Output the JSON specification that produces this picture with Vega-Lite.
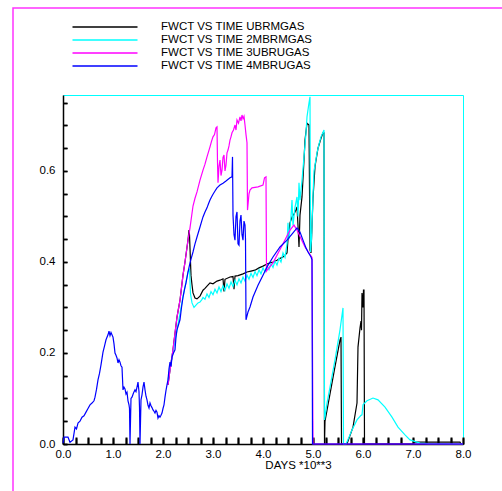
{
"$schema": "https://vega.github.io/schema/vega-lite/v6.json",
"width": 400, "height": 349,
"autosize": {"type": "none"},
"padding": {"left": 63, "top": 95, "right": 39, "bottom": 47},
"background": "white",
"config": {
 "view": {"stroke": "#00ffff", "strokeWidth": 1},
 "font": "Liberation Sans",
 "axis": {"domainColor": "black", "domainWidth": 1.5, "labelColor": "black", "titleColor": "black", "labelFont": "Liberation Sans", "labelFontSize": 11.5, "titleFont": "Liberation Sans", "titleFontSize": 11.5, "titleFontWeight": "normal", "labelOverlap": false, "labelFlush": false},
 "legend": {"orient": "none", "legendX": -50, "legendY": -87, "padding": 13, "strokeColor": "#ff33ff", "strokeWidth": 1.5, "symbolType": "M-6.5,0H6.5", "symbolSize": 100, "symbolStrokeWidth": 1.5, "symbolOffset": 73, "labelFont": "Liberation Sans", "labelFontSize": 11.5, "labelColor": "black", "labelOffset": 50, "rowPadding": 1, "labelLimit": 0, "titleOrient": "right", "titlePadding": 280, "titleFontSize": 520, "titleLimit": 3000, "titleAnchor": "start", "titleBaseline": "top"}
},
"datasets": {
 "black": [
  {"s":"UBRMGAS","t":2.1,"v":0.13},{"s":"UBRMGAS","t":2.14,"v":0.163},{"s":"UBRMGAS","t":2.2,"v":0.207},{"s":"UBRMGAS","t":2.28,"v":0.279},{"s":"UBRMGAS","t":2.34,"v":0.316},{"s":"UBRMGAS","t":2.4,"v":0.371},{"s":"UBRMGAS","t":2.44,"v":0.4},{"s":"UBRMGAS","t":2.5,"v":0.448},{"s":"UBRMGAS","t":2.52,"v":0.47},{"s":"UBRMGAS","t":2.53,"v":0.46},{"s":"UBRMGAS","t":2.56,"v":0.37},{"s":"UBRMGAS","t":2.58,"v":0.35},{"s":"UBRMGAS","t":2.6,"v":0.332},{"s":"UBRMGAS","t":2.64,"v":0.321},{"s":"UBRMGAS","t":2.68,"v":0.319},{"s":"UBRMGAS","t":2.74,"v":0.325},{"s":"UBRMGAS","t":2.8,"v":0.338},{"s":"UBRMGAS","t":2.84,"v":0.342},{"s":"UBRMGAS","t":2.88,"v":0.347},{"s":"UBRMGAS","t":2.94,"v":0.354},{"s":"UBRMGAS","t":3.0,"v":0.352},{"s":"UBRMGAS","t":3.08,"v":0.358},{"s":"UBRMGAS","t":3.14,"v":0.36},{"s":"UBRMGAS","t":3.2,"v":0.363},{"s":"UBRMGAS","t":3.22,"v":0.335},{"s":"UBRMGAS","t":3.24,"v":0.362},{"s":"UBRMGAS","t":3.34,"v":0.367},{"s":"UBRMGAS","t":3.4,"v":0.368},{"s":"UBRMGAS","t":3.42,"v":0.34},{"s":"UBRMGAS","t":3.44,"v":0.369},{"s":"UBRMGAS","t":3.5,"v":0.37},{"s":"UBRMGAS","t":3.6,"v":0.374},{"s":"UBRMGAS","t":3.68,"v":0.378},{"s":"UBRMGAS","t":3.76,"v":0.38},{"s":"UBRMGAS","t":3.84,"v":0.382},{"s":"UBRMGAS","t":3.92,"v":0.387},{"s":"UBRMGAS","t":4.0,"v":0.391},{"s":"UBRMGAS","t":4.07,"v":0.395},{"s":"UBRMGAS","t":4.14,"v":0.398},{"s":"UBRMGAS","t":4.2,"v":0.4},{"s":"UBRMGAS","t":4.28,"v":0.404},{"s":"UBRMGAS","t":4.34,"v":0.408},{"s":"UBRMGAS","t":4.4,"v":0.411},{"s":"UBRMGAS","t":4.44,"v":0.415},{"s":"UBRMGAS","t":4.48,"v":0.42},{"s":"UBRMGAS","t":4.5,"v":0.45},{"s":"UBRMGAS","t":4.54,"v":0.486},{"s":"UBRMGAS","t":4.58,"v":0.499},{"s":"UBRMGAS","t":4.62,"v":0.505},{"s":"UBRMGAS","t":4.66,"v":0.515},{"s":"UBRMGAS","t":4.68,"v":0.521},{"s":"UBRMGAS","t":4.7,"v":0.48},{"s":"UBRMGAS","t":4.72,"v":0.433},{"s":"UBRMGAS","t":4.74,"v":0.503},{"s":"UBRMGAS","t":4.78,"v":0.543},{"s":"UBRMGAS","t":4.82,"v":0.624},{"s":"UBRMGAS","t":4.84,"v":0.668},{"s":"UBRMGAS","t":4.88,"v":0.705},{"s":"UBRMGAS","t":4.92,"v":0.701},{"s":"UBRMGAS","t":4.94,"v":0.426},{"s":"UBRMGAS","t":4.96,"v":0.42},{"s":"UBRMGAS","t":5.0,"v":0.54},{"s":"UBRMGAS","t":5.04,"v":0.61},{"s":"UBRMGAS","t":5.1,"v":0.65},{"s":"UBRMGAS","t":5.16,"v":0.672},{"s":"UBRMGAS","t":5.2,"v":0.684},{"s":"UBRMGAS","t":5.22,"v":0.684},{"s":"UBRMGAS","t":5.23,"v":0.0},{"s":"UBRMGAS","t":5.24,"v":0.05},{"s":"UBRMGAS","t":5.34,"v":0.11},{"s":"UBRMGAS","t":5.44,"v":0.17},{"s":"UBRMGAS","t":5.54,"v":0.228},{"s":"UBRMGAS","t":5.56,"v":0.235},{"s":"UBRMGAS","t":5.57,"v":0.0},{"s":"UBRMGAS","t":5.68,"v":0.0},{"s":"UBRMGAS","t":5.8,"v":0.037},{"s":"UBRMGAS","t":5.88,"v":0.09},{"s":"UBRMGAS","t":5.9,"v":0.213},{"s":"UBRMGAS","t":5.94,"v":0.255},{"s":"UBRMGAS","t":5.96,"v":0.27},{"s":"UBRMGAS","t":5.97,"v":0.25},{"s":"UBRMGAS","t":5.98,"v":0.332},{"s":"UBRMGAS","t":6.0,"v":0.3},{"s":"UBRMGAS","t":6.01,"v":0.338},{"s":"UBRMGAS","t":6.02,"v":0.338},{"s":"UBRMGAS","t":6.03,"v":0.0},{"s":"UBRMGAS","t":7.0,"v":0.0},{"s":"UBRMGAS","t":7.02,"v":0.004},{"s":"UBRMGAS","t":7.94,"v":0.004},{"s":"UBRMGAS","t":7.96,"v":0.0},{"s":"UBRMGAS","t":8.0,"v":0.0}
 ],
 "cyan": [
  {"s":"2MBRMGAS","t":2.1,"v":0.141},{"s":"2MBRMGAS","t":2.18,"v":0.191},{"s":"2MBRMGAS","t":2.28,"v":0.251},{"s":"2MBRMGAS","t":2.4,"v":0.323},{"s":"2MBRMGAS","t":2.5,"v":0.378},{"s":"2MBRMGAS","t":2.53,"v":0.385},{"s":"2MBRMGAS","t":2.55,"v":0.33},{"s":"2MBRMGAS","t":2.58,"v":0.31},{"s":"2MBRMGAS","t":2.62,"v":0.3},{"s":"2MBRMGAS","t":2.66,"v":0.305},{"s":"2MBRMGAS","t":2.7,"v":0.31},{"s":"2MBRMGAS","t":2.74,"v":0.312},{"s":"2MBRMGAS","t":2.78,"v":0.318},{"s":"2MBRMGAS","t":2.8,"v":0.322},{"s":"2MBRMGAS","t":2.84,"v":0.318},{"s":"2MBRMGAS","t":2.88,"v":0.33},{"s":"2MBRMGAS","t":2.92,"v":0.322},{"s":"2MBRMGAS","t":2.96,"v":0.335},{"s":"2MBRMGAS","t":3.0,"v":0.328},{"s":"2MBRMGAS","t":3.04,"v":0.34},{"s":"2MBRMGAS","t":3.08,"v":0.332},{"s":"2MBRMGAS","t":3.12,"v":0.345},{"s":"2MBRMGAS","t":3.16,"v":0.335},{"s":"2MBRMGAS","t":3.2,"v":0.348},{"s":"2MBRMGAS","t":3.24,"v":0.338},{"s":"2MBRMGAS","t":3.28,"v":0.352},{"s":"2MBRMGAS","t":3.32,"v":0.342},{"s":"2MBRMGAS","t":3.36,"v":0.356},{"s":"2MBRMGAS","t":3.4,"v":0.346},{"s":"2MBRMGAS","t":3.44,"v":0.36},{"s":"2MBRMGAS","t":3.48,"v":0.35},{"s":"2MBRMGAS","t":3.52,"v":0.363},{"s":"2MBRMGAS","t":3.56,"v":0.354},{"s":"2MBRMGAS","t":3.6,"v":0.367},{"s":"2MBRMGAS","t":3.64,"v":0.358},{"s":"2MBRMGAS","t":3.68,"v":0.371},{"s":"2MBRMGAS","t":3.72,"v":0.362},{"s":"2MBRMGAS","t":3.76,"v":0.375},{"s":"2MBRMGAS","t":3.8,"v":0.366},{"s":"2MBRMGAS","t":3.84,"v":0.379},{"s":"2MBRMGAS","t":3.88,"v":0.37},{"s":"2MBRMGAS","t":3.92,"v":0.383},{"s":"2MBRMGAS","t":3.96,"v":0.374},{"s":"2MBRMGAS","t":4.0,"v":0.387},{"s":"2MBRMGAS","t":4.04,"v":0.378},{"s":"2MBRMGAS","t":4.08,"v":0.392},{"s":"2MBRMGAS","t":4.12,"v":0.383},{"s":"2MBRMGAS","t":4.16,"v":0.396},{"s":"2MBRMGAS","t":4.2,"v":0.388},{"s":"2MBRMGAS","t":4.24,"v":0.402},{"s":"2MBRMGAS","t":4.28,"v":0.393},{"s":"2MBRMGAS","t":4.32,"v":0.408},{"s":"2MBRMGAS","t":4.36,"v":0.4},{"s":"2MBRMGAS","t":4.4,"v":0.42},{"s":"2MBRMGAS","t":4.44,"v":0.41},{"s":"2MBRMGAS","t":4.48,"v":0.44},{"s":"2MBRMGAS","t":4.5,"v":0.486},{"s":"2MBRMGAS","t":4.52,"v":0.45},{"s":"2MBRMGAS","t":4.56,"v":0.5},{"s":"2MBRMGAS","t":4.58,"v":0.536},{"s":"2MBRMGAS","t":4.6,"v":0.48},{"s":"2MBRMGAS","t":4.64,"v":0.52},{"s":"2MBRMGAS","t":4.68,"v":0.543},{"s":"2MBRMGAS","t":4.7,"v":0.5},{"s":"2MBRMGAS","t":4.72,"v":0.574},{"s":"2MBRMGAS","t":4.74,"v":0.536},{"s":"2MBRMGAS","t":4.78,"v":0.58},{"s":"2MBRMGAS","t":4.82,"v":0.631},{"s":"2MBRMGAS","t":4.86,"v":0.684},{"s":"2MBRMGAS","t":4.88,"v":0.719},{"s":"2MBRMGAS","t":4.92,"v":0.75},{"s":"2MBRMGAS","t":4.94,"v":0.763},{"s":"2MBRMGAS","t":4.95,"v":0.422},{"s":"2MBRMGAS","t":4.97,"v":0.45},{"s":"2MBRMGAS","t":5.0,"v":0.546},{"s":"2MBRMGAS","t":5.02,"v":0.6},{"s":"2MBRMGAS","t":5.04,"v":0.613},{"s":"2MBRMGAS","t":5.08,"v":0.64},{"s":"2MBRMGAS","t":5.12,"v":0.659},{"s":"2MBRMGAS","t":5.16,"v":0.675},{"s":"2MBRMGAS","t":5.22,"v":0.69},{"s":"2MBRMGAS","t":5.23,"v":0.053},{"s":"2MBRMGAS","t":5.28,"v":0.09},{"s":"2MBRMGAS","t":5.34,"v":0.125},{"s":"2MBRMGAS","t":5.44,"v":0.185},{"s":"2MBRMGAS","t":5.54,"v":0.251},{"s":"2MBRMGAS","t":5.6,"v":0.299},{"s":"2MBRMGAS","t":5.61,"v":0.0},{"s":"2MBRMGAS","t":5.66,"v":0.0},{"s":"2MBRMGAS","t":5.72,"v":0.015},{"s":"2MBRMGAS","t":5.78,"v":0.031},{"s":"2MBRMGAS","t":5.88,"v":0.053},{"s":"2MBRMGAS","t":5.96,"v":0.063},{"s":"2MBRMGAS","t":5.98,"v":0.064},{"s":"2MBRMGAS","t":6.0,"v":0.086},{"s":"2MBRMGAS","t":6.08,"v":0.095},{"s":"2MBRMGAS","t":6.2,"v":0.101},{"s":"2MBRMGAS","t":6.3,"v":0.097},{"s":"2MBRMGAS","t":6.44,"v":0.081},{"s":"2MBRMGAS","t":6.58,"v":0.059},{"s":"2MBRMGAS","t":6.7,"v":0.037},{"s":"2MBRMGAS","t":6.84,"v":0.02},{"s":"2MBRMGAS","t":6.94,"v":0.009},{"s":"2MBRMGAS","t":7.14,"v":0.002},{"s":"2MBRMGAS","t":7.3,"v":0.001},{"s":"2MBRMGAS","t":8.0,"v":0.0}
 ],
 "magenta": [
  {"s":"3UBRUGAS","t":2.1,"v":0.13},{"s":"3UBRUGAS","t":2.14,"v":0.163},{"s":"3UBRUGAS","t":2.17,"v":0.185},{"s":"3UBRUGAS","t":2.2,"v":0.207},{"s":"3UBRUGAS","t":2.24,"v":0.244},{"s":"3UBRUGAS","t":2.28,"v":0.279},{"s":"3UBRUGAS","t":2.34,"v":0.316},{"s":"3UBRUGAS","t":2.4,"v":0.371},{"s":"3UBRUGAS","t":2.44,"v":0.4},{"s":"3UBRUGAS","t":2.5,"v":0.448},{"s":"3UBRUGAS","t":2.54,"v":0.475},{"s":"3UBRUGAS","t":2.6,"v":0.523},{"s":"3UBRUGAS","t":2.64,"v":0.54},{"s":"3UBRUGAS","t":2.68,"v":0.554},{"s":"3UBRUGAS","t":2.74,"v":0.58},{"s":"3UBRUGAS","t":2.8,"v":0.602},{"s":"3UBRUGAS","t":2.84,"v":0.615},{"s":"3UBRUGAS","t":2.88,"v":0.631},{"s":"3UBRUGAS","t":2.94,"v":0.653},{"s":"3UBRUGAS","t":2.97,"v":0.665},{"s":"3UBRUGAS","t":3.0,"v":0.675},{"s":"3UBRUGAS","t":3.03,"v":0.68},{"s":"3UBRUGAS","t":3.06,"v":0.695},{"s":"3UBRUGAS","t":3.08,"v":0.697},{"s":"3UBRUGAS","t":3.09,"v":0.62},{"s":"3UBRUGAS","t":3.1,"v":0.574},{"s":"3UBRUGAS","t":3.12,"v":0.61},{"s":"3UBRUGAS","t":3.14,"v":0.624},{"s":"3UBRUGAS","t":3.16,"v":0.59},{"s":"3UBRUGAS","t":3.18,"v":0.602},{"s":"3UBRUGAS","t":3.2,"v":0.63},{"s":"3UBRUGAS","t":3.22,"v":0.635},{"s":"3UBRUGAS","t":3.24,"v":0.6},{"s":"3UBRUGAS","t":3.26,"v":0.613},{"s":"3UBRUGAS","t":3.28,"v":0.64},{"s":"3UBRUGAS","t":3.3,"v":0.646},{"s":"3UBRUGAS","t":3.32,"v":0.655},{"s":"3UBRUGAS","t":3.34,"v":0.668},{"s":"3UBRUGAS","t":3.36,"v":0.675},{"s":"3UBRUGAS","t":3.38,"v":0.684},{"s":"3UBRUGAS","t":3.41,"v":0.69},{"s":"3UBRUGAS","t":3.44,"v":0.701},{"s":"3UBRUGAS","t":3.46,"v":0.69},{"s":"3UBRUGAS","t":3.48,"v":0.712},{"s":"3UBRUGAS","t":3.51,"v":0.705},{"s":"3UBRUGAS","t":3.54,"v":0.719},{"s":"3UBRUGAS","t":3.56,"v":0.71},{"s":"3UBRUGAS","t":3.58,"v":0.723},{"s":"3UBRUGAS","t":3.6,"v":0.715},{"s":"3UBRUGAS","t":3.62,"v":0.72},{"s":"3UBRUGAS","t":3.64,"v":0.701},{"s":"3UBRUGAS","t":3.66,"v":0.68},{"s":"3UBRUGAS","t":3.68,"v":0.662},{"s":"3UBRUGAS","t":3.69,"v":0.514},{"s":"3UBRUGAS","t":3.72,"v":0.55},{"s":"3UBRUGAS","t":3.74,"v":0.558},{"s":"3UBRUGAS","t":3.78,"v":0.563},{"s":"3UBRUGAS","t":3.9,"v":0.565},{"s":"3UBRUGAS","t":4.0,"v":0.569},{"s":"3UBRUGAS","t":4.03,"v":0.585},{"s":"3UBRUGAS","t":4.06,"v":0.587},{"s":"3UBRUGAS","t":4.07,"v":0.38},{"s":"3UBRUGAS","t":4.1,"v":0.385},{"s":"3UBRUGAS","t":4.2,"v":0.398},{"s":"3UBRUGAS","t":4.4,"v":0.44},{"s":"3UBRUGAS","t":4.54,"v":0.47},{"s":"3UBRUGAS","t":4.62,"v":0.481},{"s":"3UBRUGAS","t":4.68,"v":0.47},{"s":"3UBRUGAS","t":4.84,"v":0.433},{"s":"3UBRUGAS","t":4.98,"v":0.41},{"s":"3UBRUGAS","t":5.0,"v":0.0},{"s":"3UBRUGAS","t":8.0,"v":0.0}
 ],
 "blue": [
  {"s":"4MBRUGAS","t":0,"v":0.002},{"s":"4MBRUGAS","t":0.02,"v":0.015},{"s":"4MBRUGAS","t":0.1,"v":0.015},{"s":"4MBRUGAS","t":0.14,"v":0.004},{"s":"4MBRUGAS","t":0.2,"v":0.009},{"s":"4MBRUGAS","t":0.24,"v":0.037},{"s":"4MBRUGAS","t":0.27,"v":0.033},{"s":"4MBRUGAS","t":0.3,"v":0.046},{"s":"4MBRUGAS","t":0.34,"v":0.05},{"s":"4MBRUGAS","t":0.38,"v":0.059},{"s":"4MBRUGAS","t":0.42,"v":0.062},{"s":"4MBRUGAS","t":0.46,"v":0.07},{"s":"4MBRUGAS","t":0.5,"v":0.078},{"s":"4MBRUGAS","t":0.54,"v":0.086},{"s":"4MBRUGAS","t":0.58,"v":0.09},{"s":"4MBRUGAS","t":0.62,"v":0.095},{"s":"4MBRUGAS","t":0.64,"v":0.103},{"s":"4MBRUGAS","t":0.67,"v":0.12},{"s":"4MBRUGAS","t":0.7,"v":0.141},{"s":"4MBRUGAS","t":0.73,"v":0.155},{"s":"4MBRUGAS","t":0.76,"v":0.174},{"s":"4MBRUGAS","t":0.8,"v":0.202},{"s":"4MBRUGAS","t":0.83,"v":0.215},{"s":"4MBRUGAS","t":0.86,"v":0.229},{"s":"4MBRUGAS","t":0.9,"v":0.24},{"s":"4MBRUGAS","t":0.92,"v":0.248},{"s":"4MBRUGAS","t":0.94,"v":0.238},{"s":"4MBRUGAS","t":0.96,"v":0.245},{"s":"4MBRUGAS","t":1.0,"v":0.235},{"s":"4MBRUGAS","t":1.02,"v":0.22},{"s":"4MBRUGAS","t":1.04,"v":0.2},{"s":"4MBRUGAS","t":1.06,"v":0.195},{"s":"4MBRUGAS","t":1.08,"v":0.189},{"s":"4MBRUGAS","t":1.1,"v":0.178},{"s":"4MBRUGAS","t":1.12,"v":0.185},{"s":"4MBRUGAS","t":1.14,"v":0.18},{"s":"4MBRUGAS","t":1.16,"v":0.172},{"s":"4MBRUGAS","t":1.18,"v":0.169},{"s":"4MBRUGAS","t":1.2,"v":0.119},{"s":"4MBRUGAS","t":1.22,"v":0.125},{"s":"4MBRUGAS","t":1.24,"v":0.121},{"s":"4MBRUGAS","t":1.26,"v":0.11},{"s":"4MBRUGAS","t":1.28,"v":0.114},{"s":"4MBRUGAS","t":1.3,"v":0.095},{"s":"4MBRUGAS","t":1.32,"v":0.086},{"s":"4MBRUGAS","t":1.33,"v":0.078},{"s":"4MBRUGAS","t":1.34,"v":0.0},{"s":"4MBRUGAS","t":1.36,"v":0.1},{"s":"4MBRUGAS","t":1.38,"v":0.103},{"s":"4MBRUGAS","t":1.41,"v":0.112},{"s":"4MBRUGAS","t":1.44,"v":0.119},{"s":"4MBRUGAS","t":1.46,"v":0.115},{"s":"4MBRUGAS","t":1.48,"v":0.125},{"s":"4MBRUGAS","t":1.5,"v":0.136},{"s":"4MBRUGAS","t":1.52,"v":0.115},{"s":"4MBRUGAS","t":1.53,"v":0.08},{"s":"4MBRUGAS","t":1.54,"v":0.0},{"s":"4MBRUGAS","t":1.56,"v":0.097},{"s":"4MBRUGAS","t":1.58,"v":0.108},{"s":"4MBRUGAS","t":1.6,"v":0.125},{"s":"4MBRUGAS","t":1.62,"v":0.136},{"s":"4MBRUGAS","t":1.64,"v":0.119},{"s":"4MBRUGAS","t":1.66,"v":0.105},{"s":"4MBRUGAS","t":1.68,"v":0.097},{"s":"4MBRUGAS","t":1.7,"v":0.085},{"s":"4MBRUGAS","t":1.72,"v":0.079},{"s":"4MBRUGAS","t":1.74,"v":0.09},{"s":"4MBRUGAS","t":1.76,"v":0.084},{"s":"4MBRUGAS","t":1.78,"v":0.08},{"s":"4MBRUGAS","t":1.8,"v":0.075},{"s":"4MBRUGAS","t":1.82,"v":0.072},{"s":"4MBRUGAS","t":1.84,"v":0.068},{"s":"4MBRUGAS","t":1.86,"v":0.074},{"s":"4MBRUGAS","t":1.88,"v":0.07},{"s":"4MBRUGAS","t":1.9,"v":0.057},{"s":"4MBRUGAS","t":1.92,"v":0.062},{"s":"4MBRUGAS","t":1.94,"v":0.059},{"s":"4MBRUGAS","t":1.96,"v":0.063},{"s":"4MBRUGAS","t":1.98,"v":0.068},{"s":"4MBRUGAS","t":2.0,"v":0.078},{"s":"4MBRUGAS","t":2.02,"v":0.086},{"s":"4MBRUGAS","t":2.04,"v":0.103},{"s":"4MBRUGAS","t":2.06,"v":0.118},{"s":"4MBRUGAS","t":2.08,"v":0.13},{"s":"4MBRUGAS","t":2.1,"v":0.141},{"s":"4MBRUGAS","t":2.12,"v":0.165},{"s":"4MBRUGAS","t":2.14,"v":0.18},{"s":"4MBRUGAS","t":2.16,"v":0.17},{"s":"4MBRUGAS","t":2.18,"v":0.191},{"s":"4MBRUGAS","t":2.21,"v":0.2},{"s":"4MBRUGAS","t":2.24,"v":0.207},{"s":"4MBRUGAS","t":2.26,"v":0.235},{"s":"4MBRUGAS","t":2.28,"v":0.251},{"s":"4MBRUGAS","t":2.31,"v":0.262},{"s":"4MBRUGAS","t":2.34,"v":0.273},{"s":"4MBRUGAS","t":2.37,"v":0.3},{"s":"4MBRUGAS","t":2.4,"v":0.323},{"s":"4MBRUGAS","t":2.43,"v":0.34},{"s":"4MBRUGAS","t":2.46,"v":0.354},{"s":"4MBRUGAS","t":2.5,"v":0.378},{"s":"4MBRUGAS","t":2.54,"v":0.398},{"s":"4MBRUGAS","t":2.57,"v":0.41},{"s":"4MBRUGAS","t":2.6,"v":0.422},{"s":"4MBRUGAS","t":2.64,"v":0.44},{"s":"4MBRUGAS","t":2.68,"v":0.455},{"s":"4MBRUGAS","t":2.71,"v":0.466},{"s":"4MBRUGAS","t":2.74,"v":0.477},{"s":"4MBRUGAS","t":2.77,"v":0.488},{"s":"4MBRUGAS","t":2.8,"v":0.499},{"s":"4MBRUGAS","t":2.84,"v":0.51},{"s":"4MBRUGAS","t":2.88,"v":0.519},{"s":"4MBRUGAS","t":2.91,"v":0.528},{"s":"4MBRUGAS","t":2.94,"v":0.536},{"s":"4MBRUGAS","t":2.97,"v":0.543},{"s":"4MBRUGAS","t":3.0,"v":0.549},{"s":"4MBRUGAS","t":3.04,"v":0.556},{"s":"4MBRUGAS","t":3.08,"v":0.563},{"s":"4MBRUGAS","t":3.14,"v":0.569},{"s":"4MBRUGAS","t":3.2,"v":0.573},{"s":"4MBRUGAS","t":3.26,"v":0.578},{"s":"4MBRUGAS","t":3.34,"v":0.585},{"s":"4MBRUGAS","t":3.38,"v":0.587},{"s":"4MBRUGAS","t":3.39,"v":0.631},{"s":"4MBRUGAS","t":3.4,"v":0.503},{"s":"4MBRUGAS","t":3.42,"v":0.46},{"s":"4MBRUGAS","t":3.44,"v":0.448},{"s":"4MBRUGAS","t":3.46,"v":0.5},{"s":"4MBRUGAS","t":3.48,"v":0.51},{"s":"4MBRUGAS","t":3.5,"v":0.44},{"s":"4MBRUGAS","t":3.52,"v":0.437},{"s":"4MBRUGAS","t":3.54,"v":0.49},{"s":"4MBRUGAS","t":3.56,"v":0.503},{"s":"4MBRUGAS","t":3.58,"v":0.46},{"s":"4MBRUGAS","t":3.6,"v":0.448},{"s":"4MBRUGAS","t":3.62,"v":0.49},{"s":"4MBRUGAS","t":3.64,"v":0.481},{"s":"4MBRUGAS","t":3.65,"v":0.45},{"s":"4MBRUGAS","t":3.66,"v":0.273},{"s":"4MBRUGAS","t":3.7,"v":0.29},{"s":"4MBRUGAS","t":3.74,"v":0.301},{"s":"4MBRUGAS","t":3.8,"v":0.323},{"s":"4MBRUGAS","t":3.9,"v":0.349},{"s":"4MBRUGAS","t":4.0,"v":0.371},{"s":"4MBRUGAS","t":4.08,"v":0.389},{"s":"4MBRUGAS","t":4.2,"v":0.411},{"s":"4MBRUGAS","t":4.34,"v":0.433},{"s":"4MBRUGAS","t":4.48,"v":0.448},{"s":"4MBRUGAS","t":4.6,"v":0.464},{"s":"4MBRUGAS","t":4.68,"v":0.475},{"s":"4MBRUGAS","t":4.74,"v":0.466},{"s":"4MBRUGAS","t":4.8,"v":0.448},{"s":"4MBRUGAS","t":4.86,"v":0.431},{"s":"4MBRUGAS","t":4.9,"v":0.422},{"s":"4MBRUGAS","t":4.96,"v":0.411},{"s":"4MBRUGAS","t":4.98,"v":0.405},{"s":"4MBRUGAS","t":4.99,"v":0.0},{"s":"4MBRUGAS","t":8.0,"v":0.0}
 ]
},
"encoding": {
 "x": {"field": "t", "type": "quantitative", "scale": {"domain": [0, 8], "nice": false, "zero": false},
   "axis": {"title": "DAYS *10**3", "titleX": 235, "titleY": 24, "titleAlign": "center", "titleBaseline": "alphabetic", "titleAnchor": null,
     "values": [0,0.25,0.5,0.75,1,1.25,1.5,1.75,2,2.25,2.5,2.75,3,3.25,3.5,3.75,4,4.25,4.5,4.75,5,5.25,5.5,5.75,6,6.25,6.5,6.75,7,7.25,7.5,7.75,8],
     "labelExpr": "datum.value % 1 === 0 ? format(datum.value, '.1f') : ''", "ticks": true, "tickColor": "#000000", "tickWidth": 1.5, "tickSize": -6, "labelPadding": 10,
     "grid": true, "gridColor": "#000000", "gridWidth": 2, "gridOpacity": 1, "gridDash": [0, 342, 7, 2000]}},
 "y": {"field": "v", "type": "quantitative", "scale": {"domain": [0, 0.767], "nice": false},
   "axis": {"title": null,
     "values": [0,0.05,0.1,0.15,0.2,0.25,0.3,0.35,0.4,0.45,0.5,0.55,0.6,0.65,0.7,0.75],
     "labelExpr": "round(datum.value * 100) % 20 === 0 ? format(datum.value, '.1f') : ''", "ticks": true, "tickColor": "#000000", "tickWidth": 1.5, "tickSize": -4, "labelPadding": 12,
     "grid": true, "gridColor": "#000000", "gridWidth": 1.5, "gridOpacity": 1, "gridDash": [4, 2000]}}
},
"layer": [
 {"data": {"name": "black"}, "mark": {"type": "line", "strokeWidth": 1.2},
  "encoding": {"color": {"field": "s", "type": "nominal",
   "scale": {"domain": ["UBRMGAS", "2MBRMGAS", "3UBRUGAS", "4MBRUGAS"], "range": ["#000000", "#00ffff", "#ff00ff", "#0000ff"]},
   "legend": {"title": "\u00a0", "labelExpr": "'FWCT VS TIME ' + datum.label"}}}},
 {"data": {"name": "cyan"}, "mark": {"type": "line", "strokeWidth": 1.2}, "encoding": {"color": {"field": "s", "type": "nominal"}}},
 {"data": {"name": "magenta"}, "mark": {"type": "line", "strokeWidth": 1.2}, "encoding": {"color": {"field": "s", "type": "nominal"}}},
 {"data": {"name": "blue"}, "mark": {"type": "line", "strokeWidth": 1.2}, "encoding": {"color": {"field": "s", "type": "nominal"}}}
]
}
